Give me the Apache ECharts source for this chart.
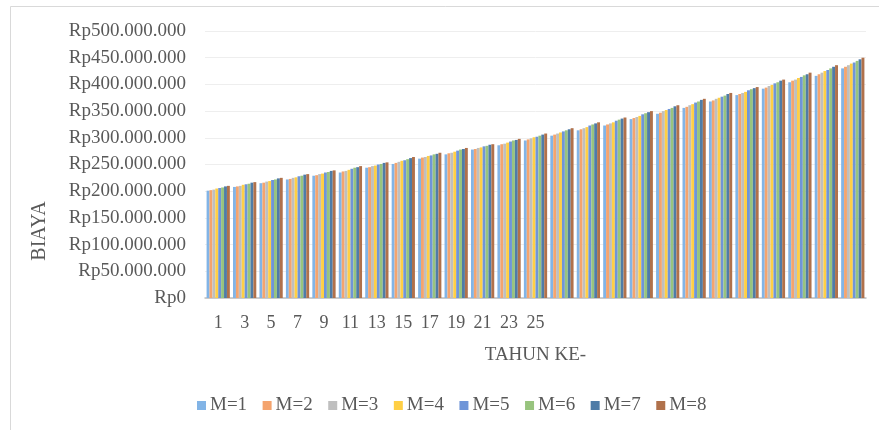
<!DOCTYPE html>
<html>
<head>
<meta charset="utf-8">
<script src="https://cdn.jsdelivr.net/npm/echarts@6/dist/echarts.min.js"></script>
<style>
html,body{margin:0;padding:0;background:#fff;}
#c{width:879px;height:430px;}
</style>
</head>
<body>
<div id="c"></div>
<script>
// Category tick labels as printed on the axis (only first 13 groups are labelled)
var tahunLabels = ['1','3','5','7','9','11','13','15','17','19','21','23','25','','','','','','','','','','','',''];
var seriesNames = ['M=1','M=2','M=3','M=4','M=5','M=6','M=7','M=8'];
// Values in millions of Rupiah
var m1 = [201,208,215,222,229,235,244,251,261,269,278,286,295,304,314,323,335,345,356,368,380,392,404,416,430];
var m2 = [202,209,216,223,230,237,245,253,263,271,279,288,297,306,316,325,337,347,358,370,382,394,407,419,433];
var m3 = [203,210,218,225,232,238,247,255,264,272,281,289,299,308,318,327,339,350,361,373,384,397,409,422,436];
var m4 = [205,212,219,226,233,240,248,257,266,274,282,291,301,310,320,329,341,352,363,375,386,399,412,425,439];
var m5 = [206,213,221,228,235,242,250,258,267,276,284,293,302,312,323,332,344,354,366,377,389,402,414,427,441];
var m6 = [207,214,222,229,236,244,251,260,269,278,285,295,304,314,325,334,346,356,368,379,391,404,417,430,444];
var m7 = [209,216,224,231,238,245,253,262,270,279,287,296,306,316,327,336,348,359,371,382,393,407,419,433,447];
var m8 = [210,217,225,232,239,247,254,264,272,281,288,298,308,318,329,338,350,361,373,384,395,409,422,436,450];
var allData = [m1,m2,m3,m4,m5,m6,m7,m8];
var colors = ['#82B4E6','#F4A46E','#BFBFBF','#FFCF45','#6F95D8','#98C47E','#4F7CA7','#B0714B'];

function rp(v){
  var n = Math.round(v*1000000);
  return 'Rp' + String(n).replace(/\B(?=(\d{3})+(?!\d))/g,'.');
}
var serif = '"Liberation Serif","DejaVu Serif",serif';

var chart = echarts.init(document.getElementById('c'));
chart.setOption({
  animation:false,
  color: colors,
  textStyle:{fontFamily: serif},
  grid:{left:205,right:13,top:31,bottom:132,containLabel:false},
  graphic:[
    {type:'rect',shape:{x:10.5,y:6.5,width:900,height:500},style:{fill:'none',stroke:'#D9D9D9',lineWidth:1},silent:true},
    {type:'text',x:40,y:231,rotation:Math.PI/2,style:{text:'BIAYA',font:'20px '+serif,fill:'#595959',textAlign:'center',textVerticalAlign:'middle'}}
  ],
  legend:{
    data: seriesNames,
    top:391,
    left:192,
    itemWidth:9,itemHeight:9,itemGap:15.5,
    icon:'rect',
    textStyle:{fontFamily:serif,fontSize:19,color:'#595959',padding:[0,0,0,-1]}
  },
  xAxis:{
    type:'category',
    data: tahunLabels,
    name:'TAHUN KE-',
    nameLocation:'middle',
    nameGap:48,
    nameTextStyle:{fontFamily:serif,fontSize:19,color:'#595959',padding:[0,0,0,0]},
    axisLine:{lineStyle:{color:'#BFBFBF',width:1.5}},
    axisTick:{show:false},
    axisLabel:{interval:0,fontFamily:serif,fontSize:18,color:'#595959',margin:16}
  },
  yAxis:{
    type:'value',
    min:0,max:500,interval:50,
    axisLine:{show:false},
    axisTick:{show:false},
    splitLine:{lineStyle:{color:'#EEEEEE'}},
    axisLabel:{formatter:rp,fontFamily:serif,fontSize:19,color:'#595959',margin:19}
  },
  series: seriesNames.map(function(n,i){
    return {name:n,type:'bar',data:allData[i],barGap:'0%',barCategoryGap:'12%'};
  })
});
</script>
</body>
</html>
